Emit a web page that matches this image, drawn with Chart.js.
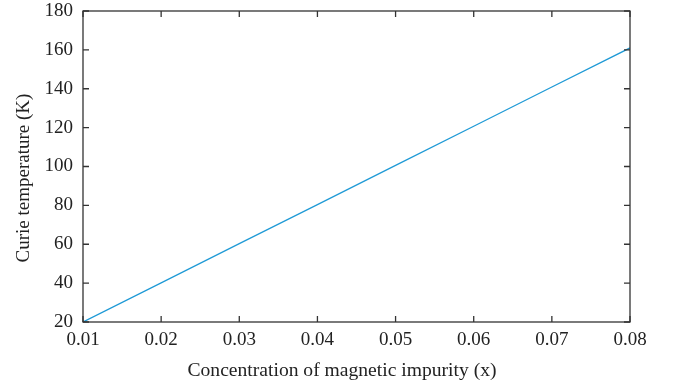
<!DOCTYPE html>
<html><head><meta charset="utf-8">
<script src="https://cdn.jsdelivr.net/npm/chart.js@4.4.1/dist/chart.umd.min.js"></script>
<style>html,body{margin:0;padding:0;background:#fff}#wrap{width:676px;height:387px}</style>
</head><body><div id="wrap"><canvas id="c" width="676" height="387"></canvas></div>
<script>
const concentration = [0.01, 0.02, 0.03, 0.04, 0.05, 0.06, 0.07, 0.08];
const curieTemp = [20, 40.1, 60.3, 80.4, 100.6, 120.7, 140.9, 161.0];
const xTicks = [0.01, 0.02, 0.03, 0.04, 0.05, 0.06, 0.07, 0.08];
const yTicks = [20, 40, 60, 80, 100, 120, 140, 160, 180];
const xTitle = 'Concentration of magnetic impurity (x)';
const yTitle = 'Curie temperature (K)';

const FONT = "'Liberation Serif', 'DejaVu Serif', serif";
const frame = {
  id: 'frame',
  afterDatasetsDraw(chart) {
    const {ctx, chartArea: a, scales: {x, y}} = chart;
    ctx.save();
    ctx.strokeStyle = '#333';
    ctx.lineWidth = 1.3;
    ctx.strokeRect(a.left, a.top, a.right - a.left, a.bottom - a.top);
    const L = 6;
    ctx.beginPath();
    xTicks.forEach(v => {
      const px = x.getPixelForValue(v);
      ctx.moveTo(px, a.bottom); ctx.lineTo(px, a.bottom - L);
      ctx.moveTo(px, a.top); ctx.lineTo(px, a.top + L);
    });
    yTicks.forEach(v => {
      const py = y.getPixelForValue(v);
      ctx.moveTo(a.left, py); ctx.lineTo(a.left + L, py);
      ctx.moveTo(a.right, py); ctx.lineTo(a.right - L, py);
    });
    ctx.stroke();
    // axis titles
    ctx.fillStyle = '#222';
    ctx.textAlign = 'center';
    ctx.textBaseline = 'middle';
    ctx.font = "19.6px " + FONT;
    ctx.fillText(xTitle, 342, 371);
    ctx.translate(24, 178);
    ctx.rotate(-Math.PI / 2);
    ctx.font = "19px " + FONT;
    ctx.fillText(yTitle, 0, 0);
    ctx.restore();
  }
};

new Chart(document.getElementById('c'), {
  type: 'scatter',
  data: {
    datasets: [{
      data: concentration.map((c, i) => ({x: c, y: curieTemp[i]})),
      showLine: true,
      borderColor: '#1f9ad6',
      borderWidth: 1.3,
      pointRadius: 0,
      fill: false
    }]
  },
  options: {
    responsive: false,
    animation: false,
    devicePixelRatio: 1,
    layout: {padding: {left: 0, right: 46, top: 0, bottom: 0}},
    plugins: {legend: {display: false}, tooltip: {enabled: false}},
    scales: {
      x: {
        type: 'linear', min: 0.01, max: 0.08,
        afterBuildTicks: s => { s.ticks = xTicks.map(v => ({value: v})); },
        afterFit: s => { s.height = 65; s.paddingLeft = 0; s.paddingRight = 0; },
        grid: {display: false, drawTicks: false},
        border: {display: false},
        ticks: {
          padding: 7, color: '#222', maxRotation: 0,
          font: {family: FONT, size: 19},
          callback: v => v.toFixed(2)
        },
        title: {display: false}
      },
      y: {
        type: 'linear', min: 20, max: 180,
        afterBuildTicks: s => { s.ticks = yTicks.map(v => ({value: v})); },
        afterFit: s => { s.width = 83; s.paddingTop = 11; s.paddingBottom = 0; },
        grid: {display: false, drawTicks: false},
        border: {display: false},
        ticks: {padding: 10, color: '#222', font: {family: FONT, size: 19}},
        title: {display: false}
      }
    }
  },
  plugins: [frame]
});
</script></body></html>
